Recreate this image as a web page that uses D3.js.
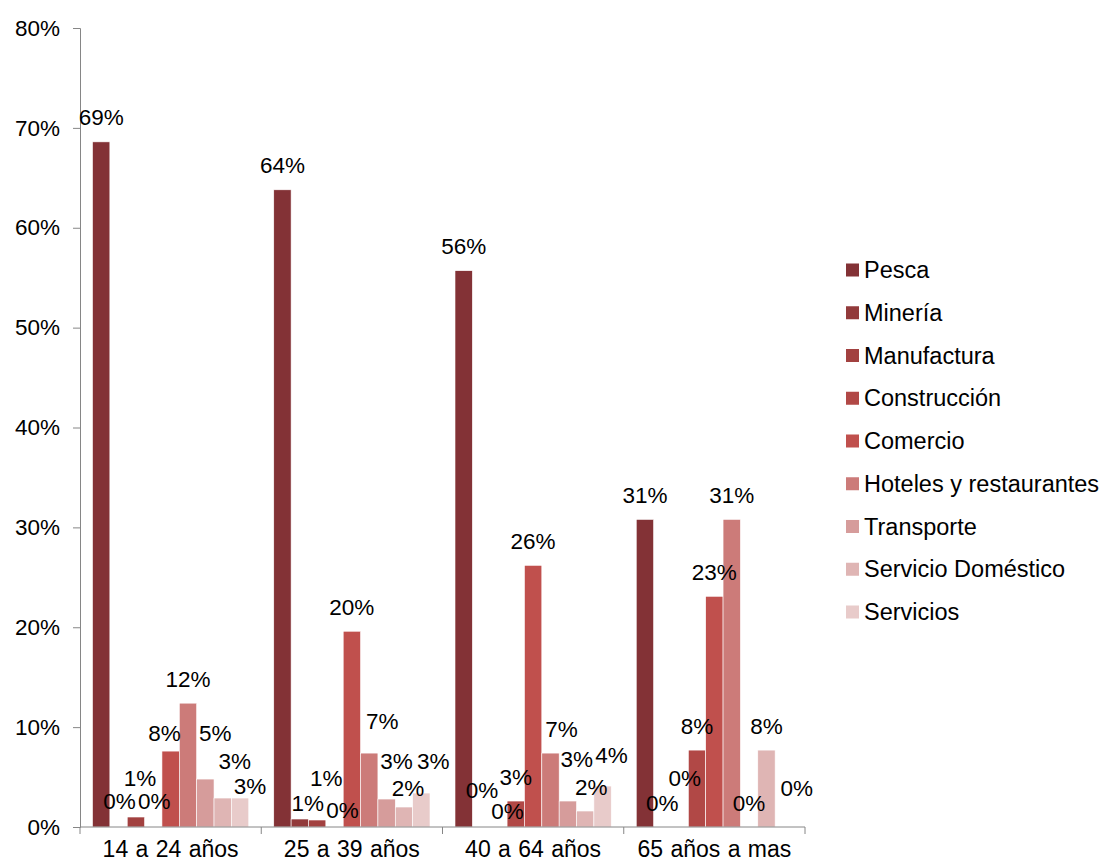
<!DOCTYPE html>
<html>
<head>
<meta charset="utf-8">
<script src="https://cdn.jsdelivr.net/npm/d3@7"></script>
<style>
  body { margin: 0; background: #fff; }
  text { font-family: "Liberation Sans", Arial, sans-serif; fill: #000; }
</style>
</head>
<body>
<div id="chart"></div>
<script>
// age groups on the x axis
const ageGroups = ["14 a 24 años", "25 a 39 años", "40 a 64 años", "65 años a mas"];

// sectors (legend order)
const sectors = ["Pesca", "Minería", "Manufactura", "Construcción", "Comercio",
  "Hoteles y restaurantes", "Transporte", "Servicio Doméstico", "Servicios"];

const sectorColors = ["#833236", "#923a3b", "#a24140", "#b14846", "#c0504d",
  "#cc7b79", "#d69c9b", "#dfb5b4", "#e8cbca"];

// share of workers per sector (%), one array per age group
const group14to24 = [68.6, 0, 1.0, 0, 7.6, 12.4, 4.8, 2.9, 2.9];
const group25to39 = [63.8, 0.8, 0.7, 0, 19.6, 7.4, 2.8, 2.0, 3.4];
const group40to64 = [55.7, 0, 0, 2.6, 26.2, 7.4, 2.6, 1.6, 4.1];
const group65plus = [30.8, 0, 0, 7.7, 23.1, 30.8, 0, 7.7, 0];

const yTicks = [0, 10, 20, 30, 40, 50, 60, 70, 80];

const values = [group14to24, group25to39, group40to64, group65plus];

// manual nudges of the data labels (dx, dy from the default spot), like the hand-moved Excel labels
const labelNudge = [
  [[0, 0], [1, -2], [4, -15], [1, -2], [-6, 6], [0, 0], [10, -22], [12, -13], [10, 12]],
  [[0, 0], [8, 8], [9, -18], [8, 7], [0, 0], [13, -8], [10, -14], [4, 5], [12, -8]],
  [[0, 0], [1, -13], [9, 8], [0, 0], [0, 0], [11, 0], [9, -18], [6, 0], [9, -7]],
  [[0, 0], [0, 0], [5, -25], [0, 0], [0, 0], [0, 0], [0, 0], [0, 0], [13, -15]]
];

const width = 1106, height = 864;
const plot = { left: 80, right: 805, top: 28, bottom: 827 };

const svg = d3.select("#chart").append("svg")
  .attr("width", width)
  .attr("height", height);

// scales
const x0 = d3.scaleBand()
  .domain(ageGroups)
  .range([plot.left, plot.right])
  .paddingInner(0)
  .paddingOuter(0);

const x1 = d3.scaleBand()
  .domain(sectors)
  .range([0, x0.bandwidth()])
  .paddingInner(0)
  .paddingOuter(0.72);

const y = d3.scaleLinear()
  .domain([0, 80])
  .range([plot.bottom, plot.top]);

const color = d3.scaleOrdinal().domain(sectors).range(sectorColors);

// y axis
const yAxis = d3.axisLeft(y)
  .tickValues(yTicks)
  .tickSize(7)
  .tickPadding(13)
  .tickFormat(d => d + "%");

const gy = svg.append("g")
  .attr("transform", `translate(${plot.left},0)`)
  .call(yAxis);
gy.selectAll("text").style("font-size", "22.5px");

// bars
ageGroups.forEach((g, gi) => {
  const grp = svg.append("g").attr("transform", `translate(${x0(g)},0)`);
  grp.selectAll("rect")
    .data(sectors)
    .join("rect")
    .attr("x", s => x1(s))
    .attr("y", (s, i) => y(values[gi][i]))
    .attr("width", x1.bandwidth())
    .attr("height", (s, i) => y(0) - y(values[gi][i]))
    .attr("fill", s => color(s))
    .attr("stroke", "#fff")
    .attr("stroke-width", 0.6);

  grp.selectAll("text.lbl")
    .data(sectors)
    .join("text")
    .attr("class", "lbl")
    .attr("text-anchor", "middle")
    .attr("dominant-baseline", "central")
    .attr("x", (s, i) => x1(s) + x1.bandwidth() / 2 + labelNudge[gi][i][0])
    .attr("y", (s, i) => y(values[gi][i]) - 24 + labelNudge[gi][i][1])
    .style("font-size", "22.5px")
    .text((s, i) => Math.round(values[gi][i]) + "%");
});

// x axis (ticks at category boundaries)
const xAxisG = svg.append("g");
xAxisG.append("line")
  .attr("x1", plot.left).attr("x2", plot.right)
  .attr("y1", y(0)).attr("y2", y(0))
  .attr("stroke", "#868686");
const bounds = ageGroups.map(g => x0(g)).concat([x0(ageGroups[ageGroups.length - 1]) + x0.bandwidth()]);
xAxisG.selectAll("line.tick")
  .data(bounds)
  .join("line")
  .attr("class", "tick")
  .attr("x1", d => d).attr("x2", d => d)
  .attr("y1", y(0)).attr("y2", y(0) + 7)
  .attr("stroke", "#868686");
xAxisG.selectAll("text")
  .data(ageGroups)
  .join("text")
  .attr("x", d => x0(d) + x0.bandwidth() / 2)
  .attr("y", 857)
  .attr("text-anchor", "middle")
  .style("font-size", "23px")
  .style("word-spacing", "1px")
  .text(d => d);

gy.select(".domain").attr("stroke", "#868686");
gy.selectAll(".tick line").attr("stroke", "#868686");

// legend
const legend = svg.append("g").attr("transform", "translate(846,270)");
const item = legend.selectAll("g")
  .data(sectors)
  .join("g")
  .attr("transform", (d, i) => `translate(0,${i * 42.75})`);
item.append("rect")
  .attr("x", 0).attr("y", -6.5)
  .attr("width", 13).attr("height", 13)
  .attr("fill", d => color(d));
item.append("text")
  .attr("x", 18)
  .attr("dominant-baseline", "central")
  .style("font-size", "23.5px")
  .text(d => d);
</script>
</body>
</html>
